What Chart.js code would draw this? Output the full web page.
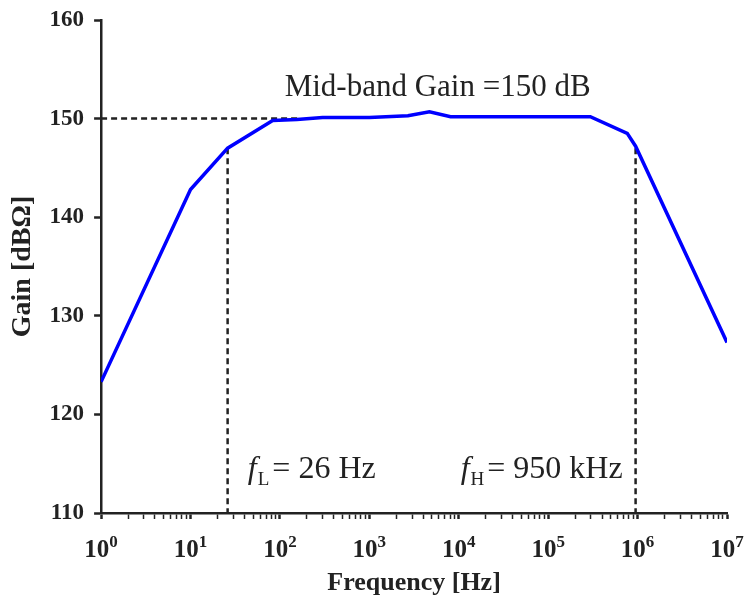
<!DOCTYPE html>
<html>
<head>
<meta charset="utf-8">
<script src="https://cdn.jsdelivr.net/npm/chart.js@4/dist/chart.umd.min.js"></script>
<style>
  html, body { margin: 0; padding: 0; background: #fff; }
  #wrap { width: 745px; height: 601px; }
</style>
</head>
<body>
<div id="wrap"><canvas id="gainChart"></canvas></div>
<script>
// Frequency response
const freqs = [1, 10, 26, 83, 155, 300, 1000, 2700, 4700, 8100, 30000, 296000, 766000, 950000, 10000000];
const gains = [123.3, 142.8, 147.0, 149.8, 149.9, 150.1, 150.1, 150.3, 150.7, 150.2, 150.2, 150.2, 148.5, 147.2, 127.3];

// Dashed guide lines
const midGain = 150;
const midLineEnd = 162;
const fLow = 26;
const fHigh = 950000;
const cornerGain = 147;

const yTicks = [110, 120, 130, 140, 150, 160];
const decades = [0, 1, 2, 3, 4, 5, 6, 7];

const serif = '"Liberation Serif", "Times New Roman", serif';
const ink = '#222';

const pts = freqs.map((f, i) => ({ x: f, y: gains[i] }));
const dash = { borderColor: ink, borderWidth: 2.5, borderDash: [6, 4], pointRadius: 0, fill: false };

// 10^n labels with a real raised exponent
const decadeLabels = {
  id: 'decadeLabels',
  afterDraw(chart) {
    const { ctx, chartArea, scales: { x } } = chart;
    const base = chartArea.bottom + 44;
    ctx.save();
    ctx.fillStyle = ink;
    ctx.textBaseline = 'alphabetic';
    ctx.textAlign = 'left';
    decades.forEach(d => {
      ctx.font = 'bold 25px ' + serif;
      const w1 = ctx.measureText('10').width;
      ctx.font = 'bold 17px ' + serif;
      const w2 = ctx.measureText(String(d)).width;
      const left = x.getPixelForValue(Math.pow(10, d)) - (w1 + w2) / 2;
      ctx.font = 'bold 25px ' + serif;
      ctx.fillText('10', left, base);
      ctx.font = 'bold 17px ' + serif;
      ctx.fillText(String(d), left + w1, base - 10);
    });
    ctx.restore();
  }
};

// Text annotations anchored on data coordinates
const notes = {
  id: 'notes',
  afterDatasetsDraw(chart) {
    const { ctx, scales: { x, y } } = chart;
    ctx.save();
    ctx.fillStyle = ink;
    ctx.textBaseline = 'alphabetic';
    ctx.font = '31px ' + serif;
    ctx.textAlign = 'center';
    ctx.fillText('Mid-band Gain =150 dB', x.getPixelForValue(5800), y.getPixelForValue(152.3));

    const fLabel = (xv, sub, rest) => {
      let px = x.getPixelForValue(xv);
      const py = y.getPixelForValue(113.55);
      ctx.textAlign = 'left';
      ctx.font = 'italic 32px ' + serif;
      ctx.fillText('f', px, py);
      px += ctx.measureText('f').width + 1;
      ctx.font = '19px ' + serif;
      ctx.fillText(sub, px, py + 7);
      px += ctx.measureText(sub).width + 3;
      ctx.font = '32px ' + serif;
      ctx.fillText(rest, px, py);
    };
    fLabel(43.8, 'L', '= 26 Hz');
    fLabel(10500, 'H', '= 950 kHz');
    ctx.restore();
  }
};

new Chart(document.getElementById('gainChart'), {
  type: 'line',
  data: {
    datasets: [
      { data: pts, borderColor: '#0000ff', borderWidth: 3.5, pointRadius: 0, tension: 0, fill: false },
      Object.assign({ data: [{ x: 1, y: midGain }, { x: midLineEnd, y: midGain }] }, dash),
      Object.assign({ data: [{ x: fLow, y: cornerGain }, { x: fLow, y: 110 }] }, dash),
      Object.assign({ data: [{ x: fHigh, y: cornerGain }, { x: fHigh, y: 110 }] }, dash)
    ]
  },
  options: {
    responsive: true,
    maintainAspectRatio: false,
    animation: false,
    layout: { padding: { top: 20, right: 18, left: 6, bottom: 2 } },
    plugins: { legend: { display: false }, tooltip: { enabled: false } },
    scales: {
      x: {
        type: 'logarithmic',
        min: 1,
        max: 1e7,
        afterBuildTicks(scale) {
          const t = [];
          for (let d = 0; d < 7; d++) {
            for (let m = 1; m < 10; m++) t.push({ value: m * Math.pow(10, d), major: m === 1 });
          }
          t.push({ value: 1e7, major: true });
          scale.ticks = t;
        },
        afterFit(scale) {
          scale.paddingLeft = 0;
          scale.paddingRight = 0;
        },
        ticks: {
          autoSkip: false,
          maxRotation: 0,
          color: 'rgba(0,0,0,0)', // drawn by decadeLabels
          padding: 7,
          font: { family: serif, size: 24, weight: 'bold' },
          callback(v) {
            const e = Math.round(Math.log10(v));
            return Math.abs(v - Math.pow(10, e)) < 1e-6 * v ? '10' : '';
          }
        },
        grid: {
          drawOnChartArea: false,
          tickLength: 6,
          tickColor: ink,
          tickWidth: ctx => (ctx.tick && ctx.tick.major ? 2.5 : 1.5)
        },
        border: { color: ink, width: 2.5 },
        title: {
          display: true,
          text: 'Frequency [Hz]',
          color: ink,
          padding: { top: 6, bottom: 0 },
          font: { family: serif, size: 26, weight: 'bold' }
        }
      },
      y: {
        min: 110,
        max: 160,
        afterBuildTicks(scale) { scale.ticks = yTicks.map(v => ({ value: v })); },
        afterFit(scale) {
          scale.paddingTop = 0;
          scale.paddingBottom = 0;
        },
        ticks: {
          color: ink,
          padding: 10,
          font: { family: serif, size: 23, weight: 'bold' }
        },
        grid: { drawOnChartArea: false, tickLength: 7, tickColor: ink, tickWidth: 2.5 },
        border: { color: ink, width: 2.5 },
        title: {
          display: true,
          text: 'Gain [dBΩ]',
          color: ink,
          padding: { top: 0, bottom: 0 },
          font: { family: serif, size: 28, weight: 'bold' }
        }
      }
    }
  },
  plugins: [notes, decadeLabels]
});
</script>
</body>
</html>
